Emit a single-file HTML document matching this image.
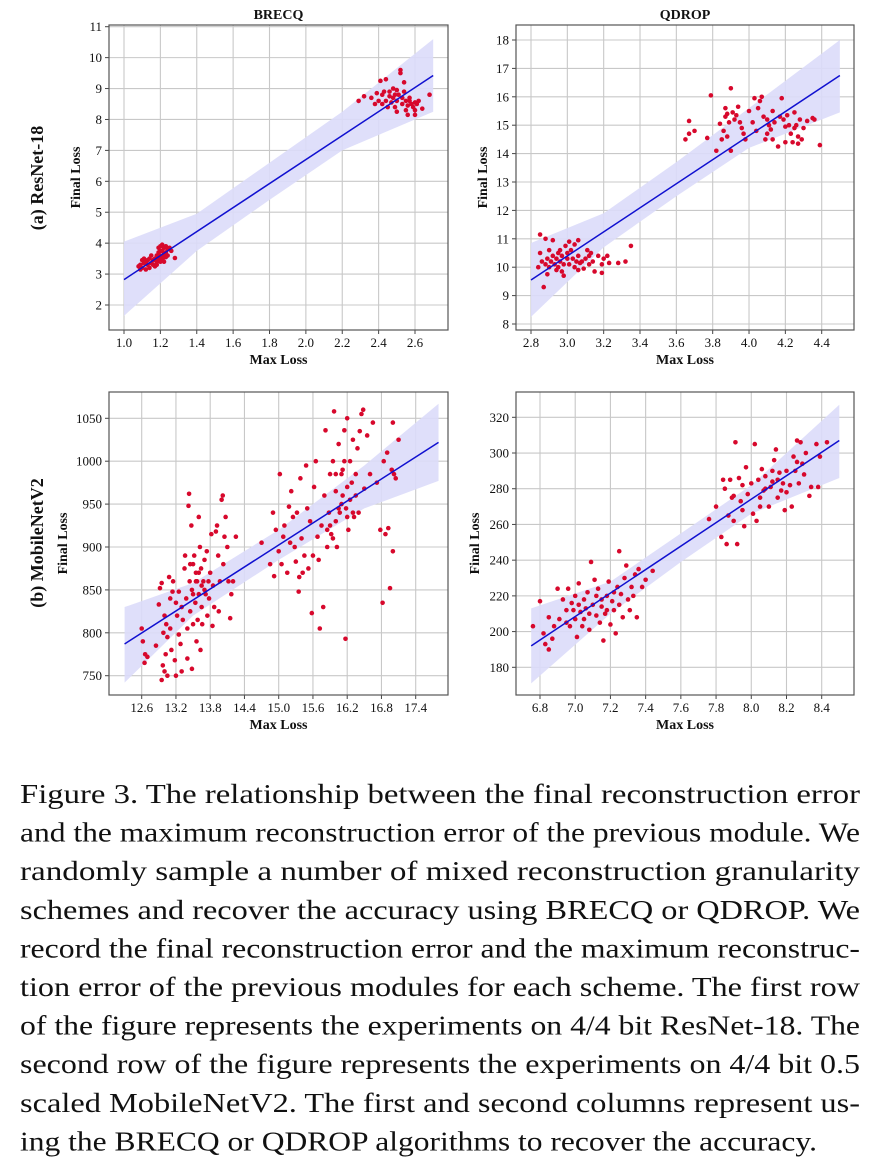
<!DOCTYPE html>
<html><head><meta charset="utf-8"><style>
html,body{margin:0;padding:0;background:#fff;}
svg{display:block;}
svg text{font-family:"Liberation Serif","Times New Roman",serif;fill:#111;}
</style></head><body>
<svg id="fig" width="879" height="1164" viewBox="0 0 879 1164" xmlns="http://www.w3.org/2000/svg"></svg>
<script>
const p1Points=[[1.08,3.25],[1.09,3.3],[1.1,3.2],[1.1,3.45],[1.11,3.35],[1.12,3.15],[1.12,3.4],[1.13,3.3],[1.14,3.5],[1.14,3.2],[1.15,3.35],[1.15,3.6],[1.16,3.3],[1.16,3.45],[1.17,3.5],[1.17,3.25],[1.18,3.6],[1.18,3.4],[1.19,3.7],[1.19,3.5],[1.19,3.85],[1.2,3.6],[1.2,3.4],[1.2,3.9],[1.21,3.75],[1.21,3.5],[1.21,3.95],[1.22,3.65],[1.22,3.85],[1.22,3.4],[1.23,3.7],[1.23,3.9],[1.23,3.55],[1.24,3.8],[1.24,3.6],[1.25,3.85],[1.26,3.75],[1.28,3.52],[1.11,3.5],[1.13,3.45],[1.18,3.3],[1.2,3.75],[1.22,3.55],[1.09,3.15],
[2.29,8.6],[2.32,8.75],[2.36,8.7],[2.38,8.5],[2.39,8.85],[2.4,8.6],[2.41,9.25],[2.42,8.8],[2.42,8.5],[2.43,8.9],[2.44,9.3],[2.44,8.6],[2.45,8.4],[2.46,8.75],[2.47,8.55],[2.48,9.0],[2.48,8.7],[2.49,8.4],[2.5,8.95],[2.5,8.6],[2.5,8.25],[2.51,8.8],[2.52,9.5],[2.52,9.6],[2.53,8.5],[2.53,8.7],[2.54,9.2],[2.54,8.9],[2.55,8.3],[2.55,8.6],[2.56,8.45],[2.56,8.15],[2.57,8.6],[2.58,8.5],[2.59,8.4],[2.6,8.55],[2.6,8.3],[2.61,8.5],[2.6,8.15],[2.62,8.6],[2.64,8.35],[2.68,8.8],[2.46,8.9],[2.49,8.8],[2.57,8.7]];
const p1FitX=[1.0,2.7];
const p1FitY=[2.82,9.42];
const p1BandX=[1.0,1.4,1.8,2.2,2.7];
const p1BandLo=[1.65,3.75,5.4,7.0,8.25];
const p1BandHi=[4.05,4.95,6.6,8.25,10.6];
const p1XTicks=[1.0,1.2,1.4,1.6,1.8,2.0,2.2,2.4,2.6];
const p1YTicks=[2,3,4,5,6,7,8,9,10,11];

const p2Points=[[2.84,10.0],[2.85,11.15],[2.85,10.5],[2.86,10.2],[2.87,9.3],[2.88,11.0],[2.88,10.1],[2.89,10.3],[2.89,9.75],[2.9,10.6],[2.9,10.0],[2.91,10.2],[2.92,10.95],[2.92,10.4],[2.93,10.1],[2.94,10.3],[2.94,9.9],[2.95,10.5],[2.95,10.0],[2.96,10.2],[2.97,10.4],[2.97,9.85],[2.98,10.1],[2.98,9.7],[2.99,10.75],[3.0,10.3],[3.0,10.5],[3.01,10.9],[3.01,10.1],[3.02,10.6],[3.03,10.3],[3.04,10.0],[3.04,10.8],[3.05,10.2],[3.06,10.4],[3.06,9.9],[3.07,10.15],[3.08,10.2],[3.09,9.95],[3.1,10.3],[3.11,10.6],[3.12,10.1],[3.12,10.4],[3.13,10.5],[3.14,10.2],[3.15,9.85],[3.17,10.4],[3.19,10.1],[3.19,9.8],[3.2,10.3],[3.22,10.4],[3.23,10.15],[3.28,10.15],[3.32,10.2],[3.35,10.75],[3.06,10.95],[2.96,10.6],
[3.65,14.5],[3.67,15.15],[3.67,14.7],[3.7,14.8],[3.77,14.55],[3.79,16.05],[3.82,14.1],[3.84,15.05],[3.85,14.5],[3.86,14.8],[3.87,15.3],[3.87,15.6],[3.88,15.4],[3.88,14.6],[3.89,15.1],[3.9,14.1],[3.9,16.3],[3.91,15.45],[3.92,15.2],[3.93,15.35],[3.94,15.65],[3.95,15.1],[3.96,14.9],[3.97,14.7],[3.98,14.5],[4.0,15.5],[4.02,15.1],[4.03,15.95],[4.04,14.8],[4.05,15.6],[4.06,15.85],[4.07,16.0],[4.08,15.3],[4.09,14.5],[4.1,15.2],[4.1,14.7],[4.11,15.0],[4.12,14.85],[4.13,15.5],[4.13,14.5],[4.14,15.1],[4.16,14.25],[4.17,15.3],[4.18,15.95],[4.19,15.2],[4.2,14.4],[4.2,14.95],[4.21,15.35],[4.22,15.0],[4.23,14.7],[4.24,14.4],[4.25,15.45],[4.25,14.9],[4.26,15.0],[4.27,14.35],[4.27,14.6],[4.28,15.2],[4.29,14.5],[4.3,14.9],[4.32,15.15],[4.35,15.25],[4.36,15.2],[4.39,14.3]];
const p2FitX=[2.8,4.5];
const p2FitY=[9.55,16.75];
const p2BandX=[2.8,3.2,3.6,4.0,4.5];
const p2BandLo=[8.25,10.7,12.5,14.2,15.45];
const p2BandHi=[10.85,11.9,13.7,15.6,18.0];
const p2XTicks=[2.8,3.0,3.2,3.4,3.6,3.8,4.0,4.2,4.4];
const p2YTicks=[8,9,10,11,12,13,14,15,16,17,18];

const p3Points=[[12.6,805],[12.62,790],[12.65,765],[12.66,775],[12.7,772],[12.85,785],[12.9,833],[12.92,852],[12.95,858],[12.95,745],[12.97,762],[12.98,800],[13.0,755],[13.0,820],[13.02,775],[13.03,810],[13.05,750],[13.05,795],[13.08,865],[13.1,805],[13.12,780],[13.14,848],[13.15,860],[13.18,768],[13.2,750],[13.2,835],[13.22,820],[13.25,848],[13.28,787],[13.3,755],[13.3,830],[13.32,815],[13.35,875],[13.36,890],[13.38,840],[13.4,805],[13.42,948],[13.43,962],[13.44,860],[13.45,825],[13.47,925],[13.48,850],[13.5,880],[13.5,810],[13.52,890],[13.54,835],[13.55,870],[13.56,790],[13.57,860],[13.58,815],[13.6,935],[13.6,845],[13.62,900],[13.63,780],[13.64,875],[13.65,830],[13.66,810],[13.68,860],[13.7,885],[13.72,845],[13.74,895],[13.75,820],[13.77,860],[13.78,840],[13.8,870],[13.82,915],[13.84,808],[13.85,855],[13.87,830],[13.9,918],[13.92,925],[13.94,890],[13.95,825],[13.97,860],[14.0,955],[14.02,960],[14.03,880],[14.05,912],[14.07,935],[14.1,900],[14.12,860],[14.15,817],[14.17,845],[14.2,860],[14.25,912],[13.4,770],[13.48,758],[13.25,798],[13.1,840],[13.55,860],[13.6,870],[13.5,845],[13.7,850],[13.45,880],[13.65,855],
[14.7,905],[14.85,880],[14.9,940],[14.92,866],[14.95,920],[15.0,895],[15.02,985],[15.05,880],[15.08,912],[15.1,925],[15.15,870],[15.18,947],[15.2,905],[15.22,965],[15.25,935],[15.28,900],[15.3,883],[15.32,940],[15.35,848],[15.36,865],[15.38,980],[15.4,910],[15.42,870],[15.45,890],[15.48,995],[15.5,945],[15.52,875],[15.55,930],[15.58,823],[15.6,890],[15.62,970],[15.65,1000],[15.68,912],[15.7,885],[15.72,805],[15.75,925],[15.78,830],[15.8,960],[15.82,1036],[15.85,900],[15.88,940],[15.9,985],[15.92,915],[15.95,1000],[15.97,1058],[16.0,965],[16.02,900],[16.05,1020],[16.07,940],[16.1,985],[16.12,960],[16.15,1036],[16.17,793],[16.18,945],[16.2,1050],[16.22,920],[16.25,1000],[16.28,975],[16.3,1025],[16.32,935],[16.35,960],[16.38,1015],[16.4,940],[16.42,1035],[16.45,1055],[16.48,1060],[16.5,968],[16.55,1030],[16.6,985],[16.65,1045],[16.72,975],[16.78,920],[16.82,835],[16.84,1000],[16.87,915],[16.9,1010],[16.92,922],[16.95,852],[16.98,990],[17.0,895],[17.02,985],[17.05,980],[17.1,1025],[17.0,1045],[16.0,930],[16.1,950],[16.2,970],[15.9,925],[16.3,940],[16.15,1000],[16.05,945],[16.25,955],[15.95,910],[16.12,990],[16.35,985],[16.0,985],[15.85,920],[16.2,935]];
const p3FitX=[12.3,17.8];
const p3FitY=[787,1022];
const p3BandX=[12.3,13.5,15.0,16.5,17.8];
const p3BandLo=[742,820,885,945,977];
const p3BandHi=[830,858,920,995,1067];
const p3XTicks=[12.6,13.2,13.8,14.4,15.0,15.6,16.2,16.8,17.4];
const p3YTicks=[750,800,850,900,950,1000,1050];

const p4Points=[[6.76,203],[6.8,217],[6.82,199],[6.83,193],[6.85,208],[6.85,190],[6.87,196],[6.88,203],[6.9,224],[6.91,207],[6.93,218],[6.95,212],[6.96,224],[6.97,203],[6.98,216],[7.0,220],[7.0,207],[7.01,197],[7.02,227],[7.03,211],[7.04,203],[7.05,218],[7.06,213],[7.07,222],[7.08,201],[7.09,239],[7.1,215],[7.11,229],[7.12,209],[7.13,224],[7.14,205],[7.15,218],[7.16,195],[7.17,210],[7.18,220],[7.19,228],[7.2,204],[7.21,217],[7.22,212],[7.23,199],[7.24,225],[7.25,245],[7.25,215],[7.26,221],[7.27,208],[7.28,230],[7.29,237],[7.3,218],[7.31,212],[7.32,225],[7.33,220],[7.34,232],[7.35,208],[7.36,235],[7.38,225],[7.4,229],[7.44,234],[7.05,207],[7.15,214],[6.99,212],[7.02,215],[7.08,210],[7.12,220],[7.22,222],[6.95,205],[7.18,212],
[7.76,263],[7.8,270],[7.83,253],[7.84,285],[7.85,280],[7.86,249],[7.87,265],[7.88,285],[7.89,275],[7.9,262],[7.91,306],[7.92,249],[7.93,286],[7.94,273],[7.95,282],[7.96,259],[7.97,292],[7.98,277],[8.0,283],[8.01,266],[8.02,305],[8.03,262],[8.04,285],[8.05,275],[8.06,291],[8.07,279],[8.08,287],[8.1,270],[8.11,281],[8.12,290],[8.13,296],[8.14,302],[8.15,275],[8.16,289],[8.17,279],[8.18,283],[8.19,268],[8.2,278],[8.22,282],[8.23,270],[8.24,298],[8.25,290],[8.26,307],[8.27,283],[8.28,306],[8.29,294],[8.3,288],[8.31,300],[8.33,276],[8.34,281],[8.37,305],[8.38,281],[8.39,298],[8.43,306],[8.05,270],[8.15,285],[7.95,268],[8.08,280],[8.2,290],[8.26,295],[7.9,276],[8.12,284]];
const p4FitX=[6.75,8.5];
const p4FitY=[192,307];
const p4BandX=[6.75,7.2,7.6,8.0,8.5];
const p4BandLo=[171,210,239,266,286];
const p4BandHi=[213,228,255,282,327];
const p4XTicks=[6.8,7.0,7.2,7.4,7.6,7.8,8.0,8.2,8.4];
const p4YTicks=[180,200,220,240,260,280,300,320];

const captionLines=["Figure 3.  The relationship between the final reconstruction error","and the maximum reconstruction error of the previous module. We","randomly sample a number of mixed reconstruction granularity","schemes and recover the accuracy using BRECQ or QDROP. We","record the final reconstruction error and the maximum reconstruc-","tion error of the previous modules for each scheme. The first row","of the figure represents the experiments on 4/4 bit ResNet-18. The","second row of the figure represents the experiments on 4/4 bit 0.5","scaled MobileNetV2. The first and second columns represent us-","ing the BRECQ or QDROP algorithms to recover the accuracy."];

const NS="http://www.w3.org/2000/svg";
const FF='"Liberation Serif", "Times New Roman", serif';
const svg=document.getElementById('fig');
function mk(tag,attrs,parent){const e=document.createElementNS(NS,tag);for(const k in attrs)e.setAttribute(k,attrs[k]);if(tag==='text')e.setAttribute('font-family',FF);(parent||svg).appendChild(e);return e;}

function panel(cfg){
  const g=mk('g',{});
  
  
  const L=cfg.box[0],R=cfg.box[1],T=cfg.box[2],B=cfg.box[3];
  const sx=v=>cfg.xp[0]+(v-cfg.xv[0])*(cfg.xp[1]-cfg.xp[0])/(cfg.xv[1]-cfg.xv[0]);
  const sy=v=>cfg.yp[0]+(v-cfg.yv[0])*(cfg.yp[1]-cfg.yp[0])/(cfg.yv[1]-cfg.yv[0]);
  const grid=mk('g',{},g);
  
  
  cfg.xt.forEach(v=>{const x=sx(v);
    mk('line',{x1:x,x2:x,y1:T,y2:B,stroke:'#c8c8c8','stroke-width':1.1},grid);
    mk('line',{x1:x,x2:x,y1:B,y2:B+4,stroke:'#444','stroke-width':1},g);
    const t=mk('text',{x:x,y:B+17,'text-anchor':'middle','font-size':13},g);t.textContent=v.toFixed(1);
    
    });
  cfg.yt.forEach(v=>{const y=sy(v);
    mk('line',{x1:L,x2:R,y1:y,y2:y,stroke:'#c8c8c8','stroke-width':1.1},grid);
    mk('line',{x1:L-4,x2:L,y1:y,y2:y,stroke:'#444','stroke-width':1},g);
    const t=mk('text',{x:L-7,y:y+4.5,'text-anchor':'end','font-size':13},g);t.textContent=String(v);
    
    });
  let d='';
  cfg.bx.forEach((v,i)=>{d+=(i?'L':'M')+sx(v)+','+sy(cfg.bh[i]);});
  for(let i=cfg.bx.length-1;i>=0;i--)d+='L'+sx(cfg.bx[i])+','+sy(cfg.bl[i]);
  const band=mk('path',{d:d+'Z',fill:'#dcdcfa','fill-opacity':0.9},g);
  
  
  cfg.pts.forEach(p=>{const c=mk('circle',{cx:sx(p[0]),cy:sy(p[1]),r:2.3,fill:'#d7082c'},g);
    
    });
  const ln=mk('line',{x1:sx(cfg.fx[0]),y1:sy(cfg.fy[0]),x2:sx(cfg.fx[1]),y2:sy(cfg.fy[1]),stroke:'#1010d0','stroke-width':1.5},g);
  
  
  const fr=mk('rect',{x:L,y:T,width:R-L,height:B-T,fill:'none',stroke:'#555','stroke-width':1.2},g);
  
  
  const xl=mk('text',{x:(L+R)/2,y:B+34,'text-anchor':'middle','font-size':14,'font-weight':'bold'},g);xl.textContent='Max Loss';
  
  
  const yl=mk('text',{x:0,y:0,'text-anchor':'middle','font-size':14,'font-weight':'bold',transform:`translate(${cfg.ylx},${(T+B)/2}) rotate(-90)`},g);yl.textContent='Final Loss';
  
  
  if(cfg.title){const tt=mk('text',{x:(L+R)/2,y:19,'text-anchor':'middle','font-size':14,'font-weight':'bold'},g);tt.textContent=cfg.title;
    
    }
}
panel({name:'brecq-resnet18-panel',title:'BRECQ',box:[109,448,25,330],xv:[1.0,2.6],xp:[124,415],yv:[11,2],yp:[26.7,305],xt:p1XTicks,yt:p1YTicks,pts:p1Points,fx:p1FitX,fy:p1FitY,bx:p1BandX,bl:p1BandLo,bh:p1BandHi,ylx:80});
panel({name:'qdrop-resnet18-panel',title:'QDROP',box:[516,854,25,330],xv:[2.8,4.4],xp:[531,821.7],yv:[18,8],yp:[40,324],xt:p2XTicks,yt:p2YTicks,pts:p2Points,fx:p2FitX,fy:p2FitY,bx:p2BandX,bl:p2BandLo,bh:p2BandHi,ylx:487});
panel({name:'brecq-mobilenetv2-panel',box:[109,448,392,695],xv:[12.6,17.4],xp:[141.7,415.7],yv:[1050,750],yp:[418.3,675.7],xt:p3XTicks,yt:p3YTicks,pts:p3Points,fx:p3FitX,fy:p3FitY,bx:p3BandX,bl:p3BandLo,bh:p3BandHi,ylx:67});
panel({name:'qdrop-mobilenetv2-panel',box:[516,854,392,695],xv:[6.8,8.4],xp:[540,821.7],yv:[320,180],yp:[417.3,667.3],xt:p4XTicks,yt:p4YTicks,pts:p4Points,fx:p4FitX,fy:p4FitY,bx:p4BandX,bl:p4BandLo,bh:p4BandHi,ylx:479});

[['(a) ResNet-18',178,'row-label-resnet18'],['(b) MobileNetV2',543,'row-label-mobilenetv2']].forEach(r=>{
  const t=mk('text',{x:0,y:0,'text-anchor':'middle','font-size':18,'font-weight':'bold',transform:`translate(43,${r[1]}) rotate(-90)`});
  t.textContent=r[0];
  
  
});
const cap=mk('g',{});


captionLines.forEach((s,i)=>{
  const t=mk('text',{x:20,y:803+i*38.6,'font-size':27,textLength:(i===captionLines.length-1?797:840),lengthAdjust:'spacingAndGlyphs'},cap);
  t.textContent=s;
  
  
});
</script>
</body></html>
